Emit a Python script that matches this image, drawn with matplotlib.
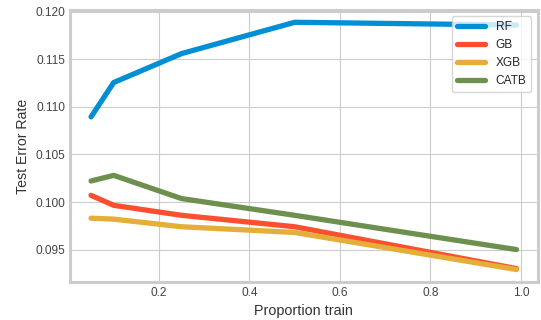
import matplotlib
matplotlib.use("Agg")
import matplotlib.pyplot as plt

# test error vs. fraction of data used for training, one line per model
proportion_train = [0.05, 0.1, 0.25, 0.5, 0.99]
rf = [0.10895, 0.11256, 0.11560, 0.11889, 0.11860]
gb = [0.10070, 0.09965, 0.09860, 0.09740, 0.09300]
xgb = [0.09830, 0.09820, 0.09740, 0.09680, 0.09290]
catb = [0.10221, 0.10280, 0.10036, 0.09860, 0.09500]

series = [("RF", rf, "#008fd5"), ("GB", gb, "#fc4f30"),
          ("XGB", xgb, "#e5ae38"), ("CATB", catb, "#6d904f")]


def main() -> None:
    plt.style.use("seaborn-v0_8-whitegrid")
    plt.rcParams["font.family"] = ["Liberation Sans", "DejaVu Sans"]

    fig = plt.figure(figsize=(5.41, 3.2), dpi=100)
    ax = fig.add_axes([0.129, 0.119, 0.865, 0.85])

    for name, values, color in series:
        ax.plot(proportion_train, values, label=name, color=color, lw=3.8,
                solid_capstyle="round")

    ax.set_xticks([0.2, 0.4, 0.6, 0.8, 1.0])
    ax.set_yticks([0.095, 0.100, 0.105, 0.110, 0.115, 0.120])
    ax.tick_params(labelsize=8.6, colors="#444444")
    ax.set_xlabel("Proportion train", fontsize=10.4, color="#333333")
    ax.set_ylabel("Test Error Rate", fontsize=10.2, color="#333333")

    for spine in ax.spines.values():
        spine.set_visible(True)
        spine.set_color("#cccccc")
        spine.set_linewidth(2.2)

    ax.legend(loc="upper right", frameon=True, fontsize=8.6, framealpha=0.8,
              handlelength=2.4, handletextpad=0.85, labelspacing=0.5,
              borderaxespad=0.55)

    fig.savefig("out.png", dpi=100)


if __name__ == "__main__":
    main()
